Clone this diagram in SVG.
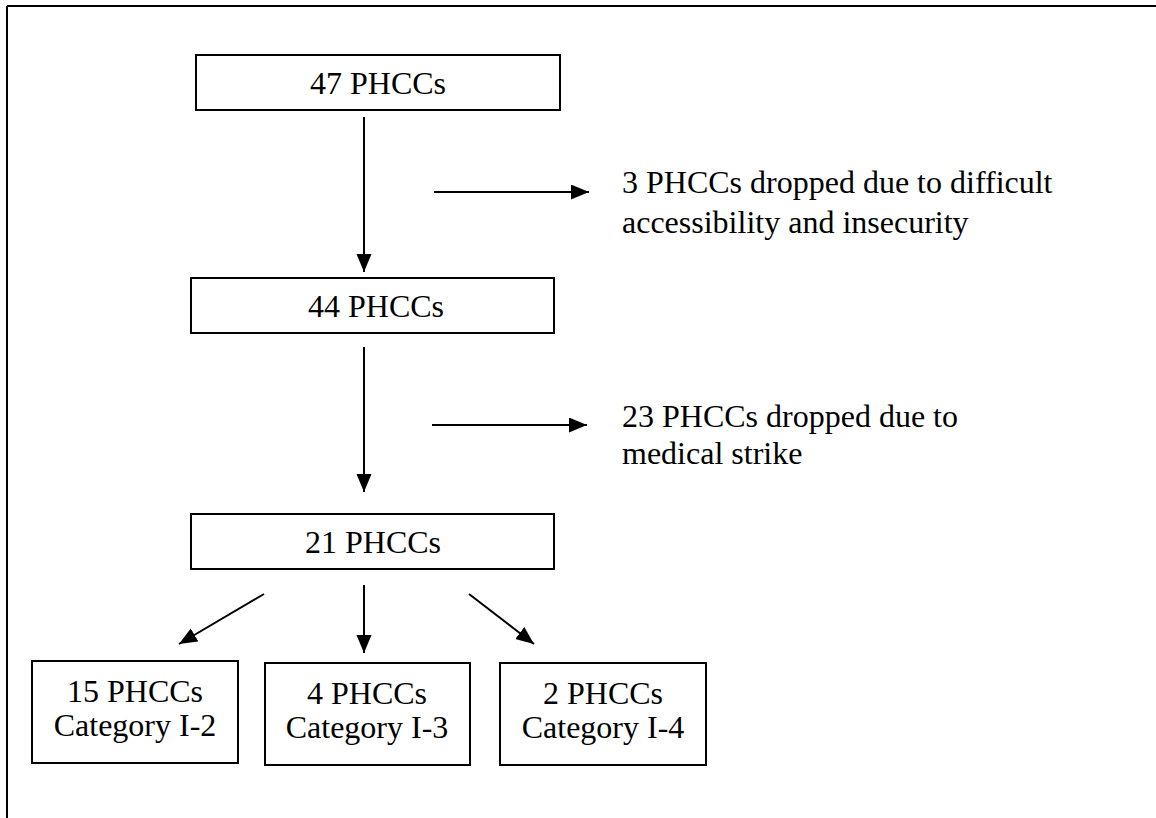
<svg xmlns="http://www.w3.org/2000/svg" width="1156" height="818" viewBox="0 0 1156 818">
<style>
.box{fill:#fff;stroke:#000;stroke-width:2}
.t{font-family:'Liberation Serif','Times New Roman',serif;font-size:32px;fill:#000}
.c{text-anchor:middle}
.ln{stroke:#000;stroke-width:2;fill:none;marker-end:url(#ah)}
</style>
<defs>
<marker id="ah" markerUnits="userSpaceOnUse" markerWidth="20" markerHeight="16" refX="18" refY="7.5" orient="auto">
<path d="M0,0 L18,7.5 L0,15 Z" fill="#000"/>
</marker>
</defs>
<rect width="1156" height="818" fill="#fff"/>
<g id="frame">
<line x1="7" y1="6" x2="1156" y2="6" stroke="#000" stroke-width="2"/>
<line x1="7" y1="6" x2="7" y2="818" stroke="#000" stroke-width="2"/>
</g>
<g id="connectors">
<line class="ln" x1="364" y1="117" x2="364" y2="272"/>
<line class="ln" x1="434" y1="192" x2="589" y2="192"/>
<line class="ln" x1="364" y1="347" x2="364" y2="492"/>
<line class="ln" x1="432" y1="425" x2="587" y2="425"/>
<line class="ln" x1="264" y1="594" x2="179" y2="644"/>
<line class="ln" x1="364" y1="585" x2="364" y2="653"/>
<line class="ln" x1="469" y1="594" x2="534" y2="644"/>
</g>
<g id="n47">
<rect class="box" x="196" y="55" width="364" height="55"/>
<text class="t c" x="378" y="94">47 PHCCs</text>
</g>
<g id="note1">
<text class="t" x="622" y="193">3 PHCCs dropped due to difficult</text>
<text class="t" x="622" y="233">accessibility and insecurity</text>
</g>
<g id="n44">
<rect class="box" x="191" y="278" width="363" height="55"/>
<text class="t c" x="376" y="317">44 PHCCs</text>
</g>
<g id="note2">
<text class="t" x="622" y="427">23 PHCCs dropped due to</text>
<text class="t" x="622" y="464">medical strike</text>
</g>
<g id="n21">
<rect class="box" x="191" y="514" width="363" height="55"/>
<text class="t c" x="373" y="553">21 PHCCs</text>
</g>
<g id="nA">
<rect class="box" x="32" y="661" width="206" height="102"/>
<text class="t c" x="135" y="702">15 PHCCs</text>
<text class="t c" x="135" y="736">Category I-2</text>
</g>
<g id="nB">
<rect class="box" x="265" y="663" width="205" height="102"/>
<text class="t c" x="367" y="704">4 PHCCs</text>
<text class="t c" x="367" y="738">Category I-3</text>
</g>
<g id="nC">
<rect class="box" x="500" y="663" width="206" height="102"/>
<text class="t c" x="603" y="704">2 PHCCs</text>
<text class="t c" x="603" y="738">Category I-4</text>
</g>
</svg>
